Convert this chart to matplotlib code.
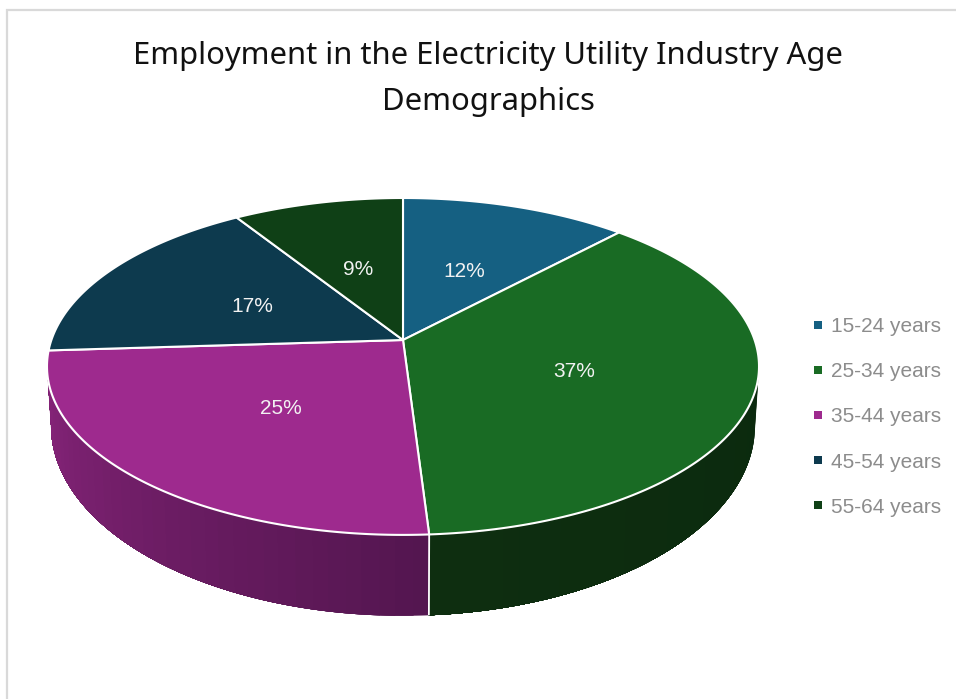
import numpy as np
import matplotlib
matplotlib.use("Agg")
import matplotlib.pyplot as plt
from matplotlib.lines import Line2D
from matplotlib.colors import to_rgb

TITLE = "Employment in the Electricity Utility Industry Age\nDemographics"
categories = ["15-24 years", "25-34 years", "35-44 years", "45-54 years", "55-64 years"]
shares = [12, 37, 25, 17, 9]
top_colors = ["#156082", "#196B24", "#9E2A8E", "#0D3A4E", "#0F4016"]
# wall shade at the start and end of each slice's visible side
wall_shades = {1: ("#0B2A0E", "#0E2E10"), 2: ("#541650", "#87247A")}

W, H = 956, 699
plt.rcParams["font.family"] = ["Noto Sans", "DejaVu Sans"]
fig = plt.figure(figsize=(W / 100, H / 100), dpi=100, facecolor="white")
ax = fig.add_axes([0, 0, 1, 1])
ax.set_xlim(0, W)
ax.set_ylim(H, 0)
ax.axis("off")

# Perspective projection of the disc onto the page
CX, K = 403.0, 0.157


def project(theta, r, a, b, y0):
    u, v = r * np.sin(theta), -r * np.cos(theta)
    d = 1 - K * v
    return CX + a * u / d, y0 + b * v / d


def top(theta, r=1.0):
    return project(theta, r, 351.6, 164.3, 340.0)


def bottom(theta):
    return project(theta, 1.0, 347.6, 185.3, 396.0)


edges = 2 * np.pi * np.cumsum([0] + shares) / sum(shares)
front_lo = np.arccos(-K)
front_hi = 2 * np.pi - front_lo

# Outer wall, only where it faces the viewer. Each band runs to the end of the
# slice and is painted over by the next one, so no seams show between bands.
for i, (a0, a1) in enumerate(zip(edges[:-1], edges[1:])):
    lo, hi = max(a0, front_lo), min(a1, front_hi)
    if lo >= hi:
        continue
    t = np.linspace(lo, hi, 200)
    xt, yt = top(t)
    xb, yb = bottom(t)
    c0, c1 = (np.array(to_rgb(c)) for c in wall_shades[i])
    bands = 36
    for j in range(bands):
        s = j * len(t) // bands
        colour = c0 + (c1 - c0) * j / (bands - 1)
        ax.fill(np.concatenate([xt[s:], xb[s:][::-1]]),
                np.concatenate([yt[s:], yb[s:][::-1]]),
                facecolor=colour, edgecolor="none", zorder=2)

# Seam between the two visible walls
for a in [a for a in edges[1:-1] if front_lo < a < front_hi]:
    xa, ya = top(a)
    xb, yb = bottom(a)
    ax.plot([xa, xb], [ya, yb], color="white", lw=1.3, zorder=3, solid_capstyle="butt")

# Top face of each slice
for i, (a0, a1) in enumerate(zip(edges[:-1], edges[1:])):
    t = np.linspace(a0, a1, 160)
    x, y = top(t)
    xs = np.concatenate([[CX], x])
    ys = np.concatenate([[340.0], y])
    ax.fill(xs, ys, facecolor=top_colors[i], edgecolor="white", lw=1.5,
            joinstyle="round", zorder=4)

# Percentage labels halfway along each slice
for i, value in enumerate(shares):
    lx, ly = top((edges[i] + edges[i + 1]) / 2, 0.5)
    ax.text(lx + 1, ly + 3, f"{value}%", color="#F2F2F2", fontsize=15, ha="center",
            va="center", family="Liberation Sans", zorder=5)

ax.text(488, 79, TITLE, color="#111111", fontsize=22.3, ha="center", va="center",
        linespacing=1.68, zorder=5)

# Thin frame along the top and left
ax.plot([7.5, 7.5, W], [H, 9.5, 9.5], color="#D9D9D9", lw=1.6, zorder=1,
        solid_joinstyle="miter")

handles = [Line2D([], [], ls="none", marker="s", ms=5.8, color=c, mew=0) for c in top_colors]
leg = ax.legend(handles, categories, loc="center left",
                bbox_to_anchor=(810 / W, 1 - 417 / H), frameon=False,
                prop={"family": "Liberation Sans", "size": 15},
                labelcolor="#8C8C8C", handlelength=0.77, handletextpad=0.24,
                labelspacing=1.255, borderpad=0, borderaxespad=0)

fig.savefig("out.png", dpi=100, facecolor="white")
